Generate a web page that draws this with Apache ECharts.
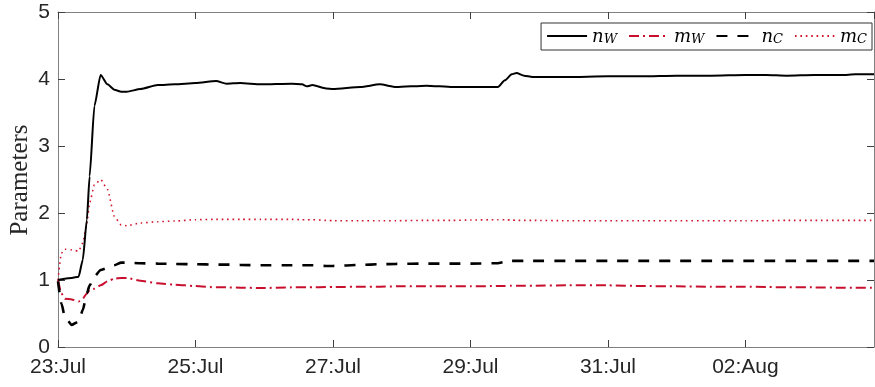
<!DOCTYPE html>
<html>
<head>
<meta charset="utf-8">
<script src="https://cdn.jsdelivr.net/npm/echarts@6/dist/echarts.min.js"></script>
<style>
html,body{margin:0;padding:0;background:#fff;}
#chart{width:875px;height:387px;}
</style>
</head>
<body>
<div id="chart"></div>
<script>
// days since 23 Jul 00:00
const days = [0,0.05,0.1,0.2,0.3,0.36,0.42,0.46,0.53,0.62,0.72,0.82,0.92,1.0,1.2,1.45,1.7,2.0,2.3,2.45,2.65,2.95,3.4,3.55,3.62,3.7,3.9,4.0,4.4,4.68,4.92,5.36,5.74,6.0,6.4,6.5,6.6,6.67,6.78,6.9,7.4,8.0,8.5,9.0,9.5,10.0,10.3,10.6,11.0,11.4,11.6,11.87];
const nW = [1.00,1.01,1.02,1.03,1.05,1.30,1.90,2.55,3.60,4.06,3.92,3.84,3.81,3.81,3.85,3.91,3.92,3.94,3.97,3.93,3.94,3.92,3.93,3.92,3.89,3.91,3.86,3.85,3.88,3.92,3.88,3.90,3.88,3.88,3.88,3.98,4.07,4.09,4.05,4.03,4.03,4.04,4.04,4.05,4.05,4.06,4.06,4.05,4.06,4.06,4.07,4.07];
const mW = [1.00,0.80,0.72,0.71,0.68,0.72,0.80,0.85,0.87,0.92,0.98,1.02,1.03,1.03,0.99,0.95,0.93,0.91,0.89,0.89,0.885,0.88,0.89,0.89,0.89,0.89,0.895,0.895,0.90,0.90,0.905,0.905,0.905,0.905,0.91,0.912,0.915,0.915,0.915,0.915,0.92,0.92,0.91,0.905,0.90,0.90,0.895,0.89,0.89,0.885,0.885,0.885];
const nC = [0.98,0.65,0.45,0.33,0.38,0.55,0.80,0.92,1.05,1.15,1.18,1.22,1.26,1.26,1.25,1.245,1.24,1.235,1.23,1.23,1.225,1.22,1.22,1.22,1.22,1.22,1.21,1.21,1.225,1.235,1.24,1.245,1.245,1.245,1.25,1.27,1.285,1.285,1.285,1.285,1.285,1.285,1.285,1.285,1.285,1.285,1.285,1.285,1.285,1.285,1.285,1.285];
const mC = [1.00,1.40,1.46,1.45,1.43,1.55,1.85,2.15,2.42,2.50,2.35,1.95,1.82,1.81,1.85,1.87,1.88,1.90,1.905,1.905,1.905,1.905,1.905,1.90,1.90,1.90,1.89,1.885,1.885,1.885,1.885,1.89,1.89,1.895,1.90,1.90,1.895,1.89,1.89,1.89,1.885,1.885,1.885,1.885,1.885,1.885,1.885,1.89,1.89,1.89,1.89,1.89];
const tickLabels = ['23:Jul','25:Jul','27:Jul','29:Jul','31:Jul','02:Aug'];
const seriesNames = ['n_W','m_W','n_C','m_C'];
const yTitle = 'Parameters';
const xMax = 11.87;

const pair = arr => days.map((d,i)=>[d,arr[i]]);
const axisGray = '#808080';
const textCol = '#262626';

const chart = echarts.init(document.getElementById('chart'), null, {renderer:'canvas'});
const xCommon = {
  type:'value', min:0, max:xMax, interval:2,
  axisLine:{show:true, onZero:false, lineStyle:{color:axisGray, width:1}},
  axisTick:{show:true, inside:true, length:7, lineStyle:{color:'#404040'}},
  splitLine:{show:false}
};
const yCommon = {
  type:'value', min:0, max:5, interval:1,
  axisLine:{show:true, onZero:false, lineStyle:{color:axisGray, width:1}},
  axisTick:{show:true, inside:true, length:7, lineStyle:{color:'#404040'}},
  splitLine:{show:false}
};
const lineBase = {type:'line', showSymbol:false, symbol:'none', smooth:0.2, smoothMonotone:'x', animation:false};

chart.setOption({
  animation:false,
  grid:{left:58, right:1, top:12, bottom:40, containLabel:false, outerBoundsMode:'none'},
  graphic:[{
    type:'text', x:20, y:180, rotation:Math.PI/2, silent:true,
    style:{text:yTitle, font:'25px "Liberation Serif"', fill:textCol, align:'center', verticalAlign:'middle'}
  }],
  legend:{
    right:3, top:23, padding:[4,5,4,5],
    itemWidth:40, itemHeight:14, itemGap:11,
    itemStyle:{opacity:0},
    backgroundColor:'#fff', borderColor:'#333', borderWidth:1,
    data:seriesNames,
    formatter: name => { const p = name.split('_'); return '{i|' + p[0] + '}{s|' + p[1] + '}'; },
    textStyle:{
      rich:{
        i:{fontFamily:'DejaVu Serif', fontStyle:'italic', fontSize:18, color:'#000', lineHeight:20, verticalAlign:'bottom'},
        s:{fontFamily:'DejaVu Serif', fontStyle:'italic', fontSize:13, color:'#000', lineHeight:20, verticalAlign:'bottom', padding:[6,0,0,0]}
      }
    }
  },
  xAxis:[
    Object.assign({}, xCommon, {position:'bottom',
      axisLabel:{show:true, margin:10, color:textCol, fontFamily:'Liberation Sans', fontSize:21,
        showMaxLabel:false,
        formatter: v => { const k = v/2; return (Number.isInteger(k) && k < tickLabels.length) ? tickLabels[k] : ''; }}}),
    Object.assign({}, xCommon, {position:'top', axisLabel:{show:false}})
  ],
  yAxis:[
    Object.assign({}, yCommon, {position:'left',
      axisLabel:{show:true, margin:8, color:textCol, fontFamily:'Liberation Sans', fontSize:21}}),
    Object.assign({}, yCommon, {position:'right', axisLabel:{show:false}})
  ],
  series:[
    Object.assign({}, lineBase, {name:'n_W', data:pair(nW), z:4,
      lineStyle:{color:'#000', width:2, type:'solid'}, itemStyle:{color:'#000'}}),
    Object.assign({}, lineBase, {name:'m_W', data:pair(mW), z:3,
      lineStyle:{color:'#c8102e', width:2, type:[10,4,2,4]}, itemStyle:{color:'#c8102e'}}),
    Object.assign({}, lineBase, {name:'n_C', data:pair(nC), z:3,
      lineStyle:{color:'#000', width:2.6, type:[11,10]}, itemStyle:{color:'#000'}}),
    Object.assign({}, lineBase, {name:'m_C', data:pair(mC), z:2,
      lineStyle:{color:'#d0142c', width:1.6, type:[1.6,3.8]}, itemStyle:{color:'#d0142c'}})
  ]
});
</script>
</body>
</html>
